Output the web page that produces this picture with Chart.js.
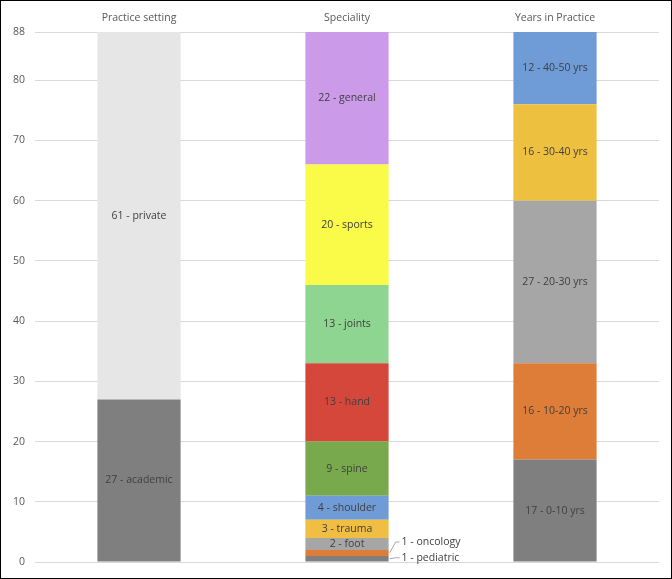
<!DOCTYPE html>
<html>
<head>
<meta charset="utf-8">
<script src="https://cdn.jsdelivr.net/npm/chart.js@4/dist/chart.umd.min.js"></script>
<style>
  html, body { margin: 0; padding: 0; background: #fff; }
  #wrap { width: 672px; height: 579px; box-sizing: border-box; border: 1.5px solid #000; position: relative; }
  canvas { display: block; }
</style>
</head>
<body>
<div id="wrap"><canvas id="c" width="669" height="576"></canvas></div>
<script>
// ---- data ----
const categories = ['Practice setting', 'Speciality', 'Years in Practice'];

const practiceNames  = ['academic', 'private'];
const practiceValues = [27, 61];
const practiceColors = ['#7f7f7f', '#e6e6e6'];

const specialityNames  = ['pediatric', 'oncology', 'foot', 'trauma', 'shoulder', 'spine', 'hand', 'joints', 'sports', 'general'];
const specialityValues = [1, 1, 2, 3, 4, 9, 13, 13, 20, 22];
const specialityColors = ['#7f7f7f', '#dd7d38', '#a6a6a6', '#efbe42', '#6f9bd6', '#79a94d', '#d5473a', '#8ed592', '#fafa48', '#cb9bea'];

const yearsNames  = ['0-10 yrs', '10-20 yrs', '20-30 yrs', '30-40 yrs', '40-50 yrs'];
const yearsValues = [17, 16, 27, 16, 12];
const yearsColors = ['#7f7f7f', '#dd7d38', '#a6a6a6', '#edc040', '#6f9bd6'];

const calloutNames = ['oncology', 'pediatric'];   // labels drawn outside with leader lines
const yTicks = [0, 10, 20, 30, 40, 50, 60, 70, 80, 88];

// ---- build datasets ----
const datasets = [];
function addGroup(names, values, colors, catIndex) {
  names.forEach((n, i) => {
    const data = categories.map((_, k) => (k === catIndex ? values[i] : null));
    datasets.push({
      label: n,
      data,
      backgroundColor: colors[i],
      borderWidth: 0,
      categoryPercentage: 1,
      barPercentage: 0.4
    });
  });
}
addGroup(practiceNames, practiceValues, practiceColors, 0);
addGroup(specialityNames, specialityValues, specialityColors, 1);
addGroup(yearsNames, yearsValues, yearsColors, 2);

const FONT = '"Open Sans", "Liberation Sans", sans-serif';

const labelPlugin = {
  id: 'segLabels',
  afterDatasetsDraw(chart) {
    const ctx = chart.ctx;
    ctx.save();
    ctx.font = '10.5px ' + FONT;
    ctx.fillStyle = '#404040';
    ctx.textBaseline = 'middle';
    chart.data.datasets.forEach((ds, di) => {
      const meta = chart.getDatasetMeta(di);
      meta.data.forEach((bar, idx) => {
        const v = ds.data[idx];
        if (v == null) return;
        const text = v + ' - ' + ds.label;
        const cy = (bar.y + bar.base) / 2;
        const ci = calloutNames.indexOf(ds.label);
        if (ci >= 0) {
          const right = bar.x + bar.width / 2;
          const ty = ci === 0 ? cy - 11 : cy - 1;
          ctx.strokeStyle = '#a6a6a6';
          ctx.lineWidth = 1;
          ctx.beginPath();
          ctx.moveTo(right + 1, cy);
          ctx.lineTo(right + 7, ty);
          ctx.lineTo(right + 11, ty);
          ctx.stroke();
          ctx.textAlign = 'left';
          ctx.fillText(text, right + 13, ty);
        } else {
          ctx.textAlign = 'center';
          ctx.fillText(text, bar.x, cy);
        }
      });
    });
    ctx.restore();
  }
};

new Chart(document.getElementById('c'), {
  type: 'bar',
  data: { labels: categories, datasets },
  options: {
    responsive: false,
    animation: false,
    devicePixelRatio: 1,
    layout: { padding: { left: 0, right: 11, top: 0, bottom: 15 } },
    plugins: { legend: { display: false }, tooltip: { enabled: false } },
    scales: {
      x: {
        position: 'top',
        stacked: true,
        grid: { display: false, drawTicks: false },
        border: { display: false },
        ticks: { color: '#595959', font: { family: FONT, size: 10.5 }, padding: 8 },
        afterFit(s) { s.height = 31; s.paddingLeft = 0; s.paddingRight = 0; }
      },
      y: {
        stacked: true,
        min: 0,
        max: 88,
        grid: { color: '#d9d9d9', drawTicks: false, lineWidth: 1 },
        border: { display: false },
        ticks: { color: '#595959', font: { family: FONT, size: 10.5 }, padding: 10 },
        afterBuildTicks(s) { s.ticks = yTicks.map(v => ({ value: v })); },
        afterFit(s) { s.width = 34; s.paddingTop = 0; s.paddingBottom = 0; }
      }
    }
  },
  plugins: [labelPlugin]
});
</script>
</body>
</html>
